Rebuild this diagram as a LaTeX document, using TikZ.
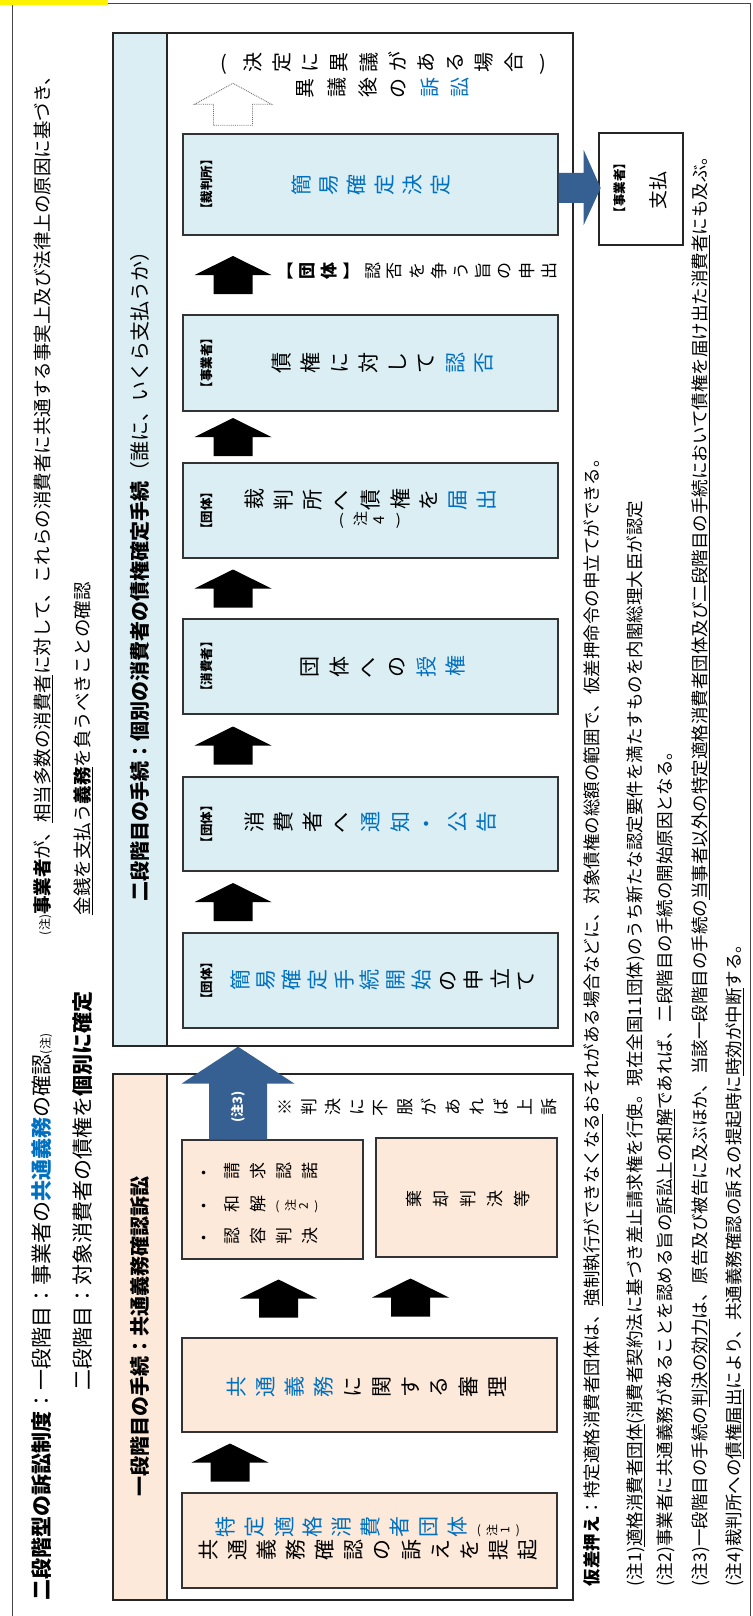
\documentclass[tikz,border=0pt]{standalone}
\usepackage{fontspec}
\setmainfont{Noto Sans CJK JP}
\usepackage{graphicx}
\usetikzlibrary{calc}
\definecolor{cblue}{RGB}{0,112,192}
\definecolor{lblue}{RGB}{218,238,243}
\definecolor{peach}{RGB}{253,233,217}
\definecolor{dblue}{RGB}{55,96,146}
\definecolor{framegray}{RGB}{70,70,70}
\def\ftitle{\fontsize{21}{21}\selectfont}
\def\fnoteA{\fontsize{18.5}{18.5}\selectfont}
\def\fheadA{\fontsize{20}{20}\selectfont}
\def\fmainA{\fontsize{21}{21}\selectfont}
\def\fsmlA{\fontsize{17}{17}\selectfont}
\def\flabA{\fontsize{12.5}{12.5}\selectfont}
\def\ffootA{\fontsize{17.5}{17.5}\selectfont}
\def\ftinyA{\fontsize{12}{12}\selectfont}
\ExplSyntaxOn
\NewDocumentCommand\tate{mmm}
  {
    \tl_map_inline:nn {#3}
      {
        \tl_if_in:nnTF {【】（）()} {##1}
          { \makebox[#1pt][c]{#2##1} }
          { \makebox[#1pt][c]{\rotatebox[origin=c]{90}{#2##1}} }
      }
  }
\ExplSyntaxOff
\begin{document}
\begin{tikzpicture}[x=1pt,y=-1pt,
  htext/.style={rotate=90,inner sep=0pt,outer sep=0pt},
  vtext/.style={inner sep=0pt,outer sep=0pt},
  stagebox/.style={draw=black!85,line width=1.3pt,fill=white,inner sep=0pt},
  bluebox/.style={draw=black!80,line width=1.4pt,fill=lblue,inner sep=0pt,minimum width=375pt},
  peachbox/.style={draw=black!80,line width=1.4pt,fill=peach,inner sep=0pt},
  pics/blockup/.style={code={\fill[black] (-19.5,19) -- (-19.5,0) -- (-38.5,0) -- (0,-19) -- (38.5,0) -- (19.5,0) -- (19.5,19) -- cycle;}},
  pics/outlineup/.style={code={\filldraw[fill=white,draw=black!55,densely dotted,line width=0.9pt] (-19.5,21) -- (-19.5,0) -- (-38.5,0) -- (0,-21) -- (38.5,0) -- (19.5,0) -- (19.5,21) -- cycle;}}
]
\useasboundingbox (0,0) rectangle (752,1616);
\fill[white] (0,0) rectangle (752,1616);
% frame and tag
\node[draw=framegray,line width=1pt,minimum width=738pt,minimum height=1612pt,inner sep=0pt] (frame) at (381,810) {};
\node[fill=yellow,minimum width=108pt,minimum height=5pt,inner sep=0pt] (tag) at (54,2.5) {};

% title lines
\node[htext,anchor=west,font=\ftitle] (t1) at (42,1600) {\textbf{二段階型の訴訟制度}：一段階目：事業者の\textbf{\color{cblue}共通義務}の確認{\ftinyA(注)}};
\node[htext,anchor=west,font=\ftitle] (t2) at (83,1390) {二段階目：対象消費者の債権を\textbf{個別に確定}};
\node[htext,anchor=west,font=\fnoteA] (t3) at (43,935) {{\ftinyA(注)}\textbf{事業者}が、\underline{相当多数の消費者}に対して、これらの消費者に共通する事実上及び法律上の原因に基づき、};
\node[htext,anchor=west,font=\fnoteA] (t4) at (83,915) {\underline{金銭を支払う\textbf{義務}}を負うべきことの確認};

% stage 2
\node[stagebox,minimum width=460pt,minimum height=1013pt] (s2) at (343,539.5) {};
\node[draw=black!85,line width=1.3pt,fill=lblue,minimum width=54pt,minimum height=1013pt,inner sep=0pt] (s2h) at (140,539.5) {};
\node[htext,anchor=west,font=\fheadA] (s2t) at (140,901) {\textbf{二段階目の手続：個別の消費者の債権確定手続}（誰に、いくら支払うか）};

\node[bluebox,minimum height=101pt] (b6) at (370.5,184.5) {};
\node[bluebox,minimum height=96pt] (b5) at (370.5,363) {};
\node[bluebox,minimum height=95pt] (b4) at (370.5,510.5) {};
\node[bluebox,minimum height=95pt] (b3) at (370.5,666.5) {};
\node[bluebox,minimum height=94pt] (b2) at (370.5,824) {};
\node[bluebox,minimum height=95pt] (b1) at (370.5,980.5) {};

\foreach \b/\lab in {b6/【裁判所】,b5/【事業者】,b4/【団体】,b3/【消費者】,b2/【団体】,b1/【団体】}{
  \node[htext,font=\flabA\bfseries] (\b l) at ($(\b.west)+(24,0)$) {\lab};
}
\node[vtext,font=\fmainA] (b6t) at (371,185) {\tate{28}{\color{cblue}}{簡易確定決定}};
\node[vtext,font=\fmainA] (b5t) at (383,363) {\tate{29}{}{債権に対して}\tate{29}{\color{cblue}}{認否}};
\node[vtext,font=\fmainA] (b4t) at (371,500) {\tate{29}{}{裁判所へ債権を}\tate{29}{\color{cblue}}{届出}};
\node[vtext,font=\fontsize{15}{15}\selectfont] (b4n) at (370,520) {\tate{19}{}{(注4)}};
\node[vtext,font=\fmainA] (b3t) at (383,667) {\tate{29}{}{団体への}\tate{29}{\color{cblue}}{授権}};
\node[vtext,font=\fmainA] (b2t) at (371,823) {\tate{29}{}{消費者へ}\tate{29}{\color{cblue}}{通知・公告}};
\node[vtext,font=\fmainA] (b1t) at (383,980) {\tate{26}{\color{cblue}}{簡易確定手続開始}\tate{26}{}{の申立て}};

\node[vtext,font=\fontsize{20}{20}\selectfont] (obj) at (383,63) {\tate{29}{}{(決定に異議がある場合)}};
\node[vtext,font=\fontsize{20}{20}\selectfont] (objt) at (383,88) {\tate{31}{}{異議後の}\tate{31}{\color{cblue}}{訴訟}};
\pic at ($(b6.north)+(-137.5,-29)$) {outlineup};

\foreach \lo/\hi in {b1/b2,b2/b3,b3/b4,b4/b5,b5/b6}{
  \coordinate (m\lo) at ($(\lo.north)!0.5!(\hi.south)$);
  \pic at ($(m\lo)+(-137.5,0)$) {blockup};
}
\node[vtext,font=\fsmlA,anchor=west] (l56) at (274,271) {\tate{22}{\bfseries}{【団体】}\tate{22}{}{認否を争う旨の申出}};

% payment box and arrow
\node[draw=black!85,line width=1.3pt,fill=white,minimum width=84pt,minimum height=112pt,inner sep=0pt] (pay) at (641,189) {};
\node[htext,font=\flabA\bfseries] (payl) at (620,188) {【事業者】};
\node[htext,font=\fontsize{19}{19}\selectfont] (payt) at (658,190) {支払};
\fill[dblue,shift={(b6.east)}] (0,-11.5) -- (25,-11.5) -- (25,-34.5) -- (42,3.5) -- (25,40.5) -- (25,18.5) -- (0,18.5) -- cycle;

% stage 1
\node[stagebox,minimum width=460pt,minimum height=526pt] (s1) at (343,1337) {};
\node[draw=black!85,line width=1.3pt,fill=peach,minimum width=54pt,minimum height=526pt,inner sep=0pt] (s1h) at (140,1337) {};
\node[htext,font=\fheadA\bfseries] (s1t) at (140,1336) {一段階目の手続：共通義務確認訴訟};

\node[peachbox,minimum width=375pt,minimum height=95pt] (a1) at (369.5,1540.5) {};
\node[peachbox,minimum width=375pt,minimum height=94pt] (a2) at (369.5,1385) {};
\node[peachbox,minimum width=181pt,minimum height=119pt] (a3) at (272.5,1199.5) {};
\node[peachbox,minimum width=181pt,minimum height=119pt] (a4) at (466.5,1197.5) {};

\node[vtext,font=\fmainA] (a1t) at (368,1527) {\tate{29}{\color{cblue}}{特定適格消費者団体}\tate{13}{\ftinyA}{(注1)}};
\node[vtext,font=\fmainA] (a1u) at (368,1550) {\tate{29}{}{共通義務確認の訴えを提起}};
\node[vtext,font=\fmainA] (a2t) at (367,1387) {\tate{29}{\color{cblue}}{共通義務}\tate{29}{}{に関する審理}};
\node[vtext,font=\fsmlA,anchor=west] (a3t1) at (193,1172) {\tate{26}{}{・請求認諾}};
\node[vtext,font=\fsmlA,anchor=west] (a3t2) at (193,1205) {\tate{26}{}{・和解}\tate{13}{\ftinyA}{(注2)}};
\node[vtext,font=\fsmlA,anchor=west] (a3t3) at (193,1237) {\tate{26}{}{・認容判決}};
\node[vtext,font=\fsmlA] (a4t) at (468,1199) {\tate{27}{}{棄却判決等}};

\coordinate (ma12) at ($(a1.north)!0.5!(a2.south)$);
\pic at ($(ma12)+(-139.5,0)$) {blockup};
\coordinate (ma23) at ($(a2.north)!0.5!(a3.south)$);
\pic at ($(ma23)+(-42.5,0)$) {blockup};
\coordinate (ma24) at ($(a2.north)!0.5!(a4.south)$);
\pic at ($(ma24)+(-7.5,0)$) {blockup};

% (注3) arrow into stage 2
\coordinate (n3tip) at ($(s2.south)+(-105,0)$);
\fill[dblue,shift={(n3tip)}] (0,0) -- (56.5,37) -- (29,37) -- (29,93) -- (-29,93) -- (-29,37) -- (-56.5,37) -- cycle;
\node[htext,font=\fontsize{13}{13}\selectfont\bfseries,text=white] (n3t) at ($(n3tip)+(0,60)$) {(注3)};
\node[vtext,font=\fsmlA,anchor=west] (appeal) at (273,1107) {\tate{24}{}{※判決に不服があれば上訴}};

% footnotes
\node[htext,anchor=west,font=\ffootA] (fn0) at (593,1586) {\textbf{仮差押え}：特定適格消費者団体は、\underline{強制執行ができなくなる}おそれがある場合などに、対象債権の総額の範囲で、仮差押命令の申立てができる。};
\node[htext,anchor=west,font=\ffootA] (fn1) at (636,1586) {(注1)\underline{適格消費者団体}(消費者契約法に基づき差止請求権を行使。現在全国11団体)のうち新たな認定要件を満たすものを内閣総理大臣が認定};
\node[htext,anchor=west,font=\ffootA] (fn2) at (666,1586) {(注2)事業者に共通義務があることを認める旨の\underline{訴訟上の和解}であれば、二段階目の手続の開始原因となる。};
\node[htext,anchor=west,font=\ffootA] (fn3) at (701,1586) {(注3)一段階目の手続の\underline{判決の効力}は、原告及び被告に及ぶほか、当該一段階目の手続の\underline{当事者以外の特定適格消費者団体及び二段階目の手続において債権を届け出た消費者}にも及ぶ。};
\node[htext,anchor=west,font=\ffootA] (fn4) at (735,1586) {(注4)裁判所への\underline{債権届出}により、共通義務確認の訴えの提起時に\underline{時効が中断}する。};
\end{tikzpicture}
\end{document}
